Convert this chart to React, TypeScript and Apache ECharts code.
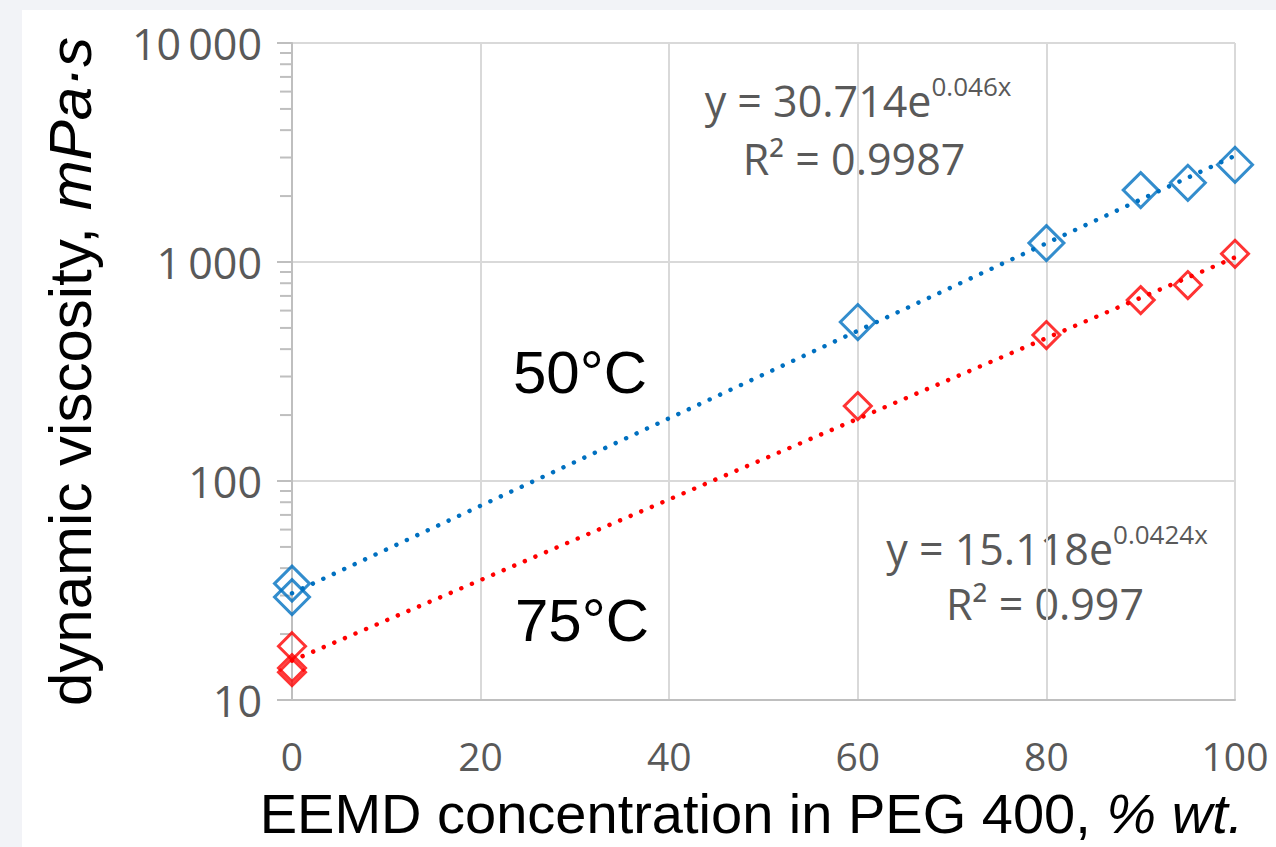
import React, { useEffect, useRef } from 'react';
import * as echarts from 'echarts';

// ---- data ----
const xTickValues = [0, 20, 40, 60, 80, 100];
const conc50 = [0, 0, 60, 80, 90, 95, 100];
const visc50 = [34, 29.5, 532, 1220, 2130, 2300, 2780];
const conc75 = [0, 0, 0, 60, 80, 90, 95, 100];
const visc75 = [17.6, 14, 13.4, 220, 464, 670, 785, 1090];
// exponential trendlines (straight on the log axis): endpoints at x = 0 and x = 100
const trendX = [0, 100];
const trend50 = [30.714, 3055];
const trend75 = [15.118, 1049];
const yMinorTicks = [
  20, 30, 40, 50, 60, 70, 80, 90,
  200, 300, 400, 500, 600, 700, 800, 900,
  2000, 3000, 4000, 5000, 6000, 7000, 8000, 9000,
];
const eq50 = { main: 'y = 30.714e', sup: '0.046x', r2: 'R² = 0.9987' };
const eq75 = { main: 'y = 15.118e', sup: '0.0424x', r2: 'R² = 0.997' };
const label50 = '50°C';
const label75 = '75°C';
const xTitle = 'EEMD concentration in PEG 400, ';
const xTitleItalic = '% wt.';
const yTitle = 'dynamic viscosity, ';
const yTitleItalic = 'mPa·s';

const BLUE = '#0070C0';
const RED = '#FF0000';
const GRID = '#d9d9d9';
const AXIS = '#bfbfbf';
const TEXT_GREY = '#595959';
const SANS = 'Liberation Sans, Arial, sans-serif';
const TICKFONT = 'Open Sans, sans-serif';

function pairs(xs: number[], ys: number[]) {
  return xs.map((x, i) => [x, ys[i]]);
}

function fmtThousands(v: number) {
  return String(Math.round(v)).replace(/\B(?=(\d{3})+(?!\d))/g, '\u2009');
}

export default function App() {
  const ref = useRef<HTMLDivElement>(null);

  useEffect(() => {
    if (!ref.current) return;
    const chart = echarts.init(ref.current, undefined, { renderer: 'svg' });

    const eqRich = {
      a: { fontSize: 43, fontFamily: TICKFONT, fill: TEXT_GREY, lineHeight: 54 },
      s: { fontSize: 26, fontFamily: TICKFONT, fill: TEXT_GREY, verticalAlign: 'top', lineHeight: 54, padding: [0, 0, 24, 0] },
    };

    const dotted = { width: 4.5, type: [0.01, 11.5], cap: 'round' };

    chart.setOption({
      animation: false,
      backgroundColor: 'transparent',
      grid: { left: 292, right: 41, top: 43, bottom: 147, containLabel: false, outerBoundsMode: 'none' },
      xAxis: {
        type: 'value',
        min: 0,
        max: 100,
        interval: 20,
        axisLine: { show: true, lineStyle: { color: AXIS, width: 2 } },
        axisTick: { show: false },
        splitLine: { show: true, lineStyle: { color: GRID, width: 2 } },
        axisLabel: {
          margin: 36,
          fontSize: 39,
          lineHeight: 39,
          fontFamily: TICKFONT,
          color: TEXT_GREY,
          customValues: xTickValues,
        },
        name: `{n|${xTitle}}{i|${xTitleItalic}}`,
        nameLocation: 'middle',
        nameGap: 87,
        nameTextStyle: {
          padding: [0, 24, 0, 0],
          rich: {
            n: { fontSize: 56, lineHeight: 52, fontFamily: SANS, color: '#000' },
            i: { fontSize: 56, lineHeight: 52, fontFamily: SANS, color: '#000', fontStyle: 'italic' },
          },
        },
      },
      yAxis: {
        type: 'log',
        logBase: 10,
        min: 10,
        max: 10000,
        axisLine: { show: true, lineStyle: { color: AXIS, width: 2 } },
        axisTick: { show: true, length: 15, lineStyle: { color: AXIS, width: 2 } },
        splitLine: { show: true, lineStyle: { color: GRID, width: 2 } },
        axisLabel: {
          margin: 30,
          fontSize: 43,
          fontFamily: TICKFONT,
          color: TEXT_GREY,
          formatter: (v: number) => fmtThousands(v),
        },
        name: `{n|${yTitle}}{i|${yTitleItalic}}`,
        nameLocation: 'middle',
        nameGap: 192,
        nameTextStyle: {
          rich: {
            n: { fontSize: 60, fontFamily: SANS, color: '#000' },
            i: { fontSize: 60, fontFamily: SANS, color: '#000', fontStyle: 'italic' },
          },
        },
      },
      series: [
        {
          name: 'minor ticks',
          type: 'custom',
          clip: false,
          silent: true,
          data: yMinorTicks.map((v) => [0, v]),
          renderItem: (params: any, api: any) => {
            const p = api.coord([api.value(0), api.value(1)]);
            return {
              type: 'line',
              shape: { x1: p[0] - 12, y1: p[1], x2: p[0], y2: p[1] },
              style: { stroke: AXIS, lineWidth: 2 },
            };
          },
          z: 1,
        },
        {
          name: 'trend 50',
          type: 'line',
          data: pairs(trendX, trend50),
          showSymbol: false,
          symbol: 'none',
          lineStyle: { color: BLUE, ...dotted },
          z: 2,
        },
        {
          name: 'trend 75',
          type: 'line',
          data: pairs(trendX, trend75),
          showSymbol: false,
          symbol: 'none',
          lineStyle: { color: RED, ...dotted },
          z: 2,
        },
        {
          name: '50°C',
          type: 'scatter',
          data: pairs(conc50, visc50),
          symbol: 'diamond',
          symbolSize: 35,
          itemStyle: { color: 'rgba(0,0,0,0)', borderColor: BLUE, borderWidth: 3 },
          z: 3,
        },
        {
          name: '75°C',
          type: 'scatter',
          data: pairs(conc75, visc75),
          symbol: 'diamond',
          symbolSize: 27,
          itemStyle: { color: 'rgba(0,0,0,0)', borderColor: RED, borderWidth: 3 },
          z: 3,
        },
      ],
      graphic: [
        {
          type: 'text',
          x: 858,
          y: 100,
          style: {
            text: `{a|${eq50.main}}{s|${eq50.sup}}`,
            rich: eqRich,
            align: 'center',
            verticalAlign: 'middle',
          },
        },
        {
          type: 'text',
          x: 854,
          y: 158,
          style: {
            text: eq50.r2,
            fontSize: 43,
            fontFamily: TICKFONT,
            fill: TEXT_GREY,
            align: 'center',
            verticalAlign: 'middle',
          },
        },
        {
          type: 'text',
          x: 1047,
          y: 548,
          style: {
            text: `{a|${eq75.main}}{s|${eq75.sup}}`,
            rich: eqRich,
            align: 'center',
            verticalAlign: 'middle',
          },
        },
        {
          type: 'text',
          x: 1045,
          y: 603,
          style: {
            text: eq75.r2,
            fontSize: 43,
            fontFamily: TICKFONT,
            fill: TEXT_GREY,
            align: 'center',
            verticalAlign: 'middle',
          },
        },
        {
          type: 'text',
          x: 513,
          y: 372,
          style: { text: label50, fontSize: 60, fontFamily: SANS, fill: '#000', align: 'left', verticalAlign: 'middle' },
        },
        {
          type: 'text',
          x: 515,
          y: 620,
          style: { text: label75, fontSize: 60, fontFamily: SANS, fill: '#000', align: 'left', verticalAlign: 'middle' },
        },
      ],
    });

    return () => chart.dispose();
  }, []);

  return (
    <div style={{ position: 'absolute', left: 0, top: 0, width: 1276, height: 847, background: '#f2f3f7', overflow: 'hidden' }}>
      <div style={{ position: 'absolute', left: 22, top: 10, right: 0, bottom: 0, background: '#ffffff' }} />
      <div ref={ref} style={{ position: 'absolute', left: 0, top: 0, width: 1276, height: 847 }} />
    </div>
  );
}
